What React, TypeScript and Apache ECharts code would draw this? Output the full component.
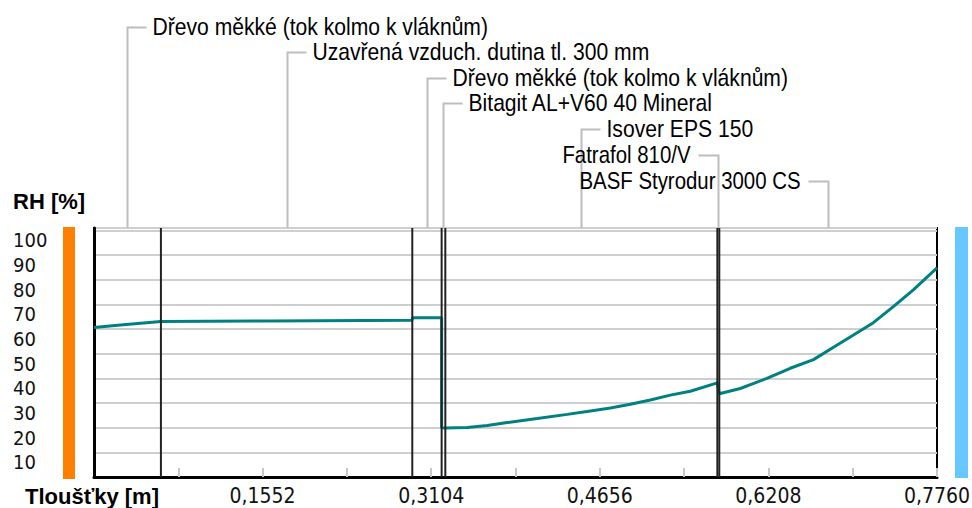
import React, { useEffect, useRef } from "react";
import * as echarts from "echarts";

// Layer names (from inside to outside) and their boundaries along the thickness [m]
const layerNames = [
  "Dřevo měkké (tok kolmo k vláknům)",
  "Uzavřená vzduch. dutina tl. 300 mm",
  "Dřevo měkké (tok kolmo k vláknům)",
  "Bitagit AL+V60 40 Mineral",
  "Isover EPS 150",
  "Fatrafol 810/V",
  "BASF Styrodur 3000 CS",
];
const layerBounds = [0, 0.0616, 0.293, 0.32, 0.3234, 0.5738, 0.5756, 0.776];
const labelRows = [27, 52, 78, 103, 129, 155, 181];
const labelSide = ["right", "right", "right", "right", "right", "left", "left"];

// Relative humidity profile
const rhX = [
  0, 0.0218, 0.0402, 0.0616, 0.1627, 0.293, 0.2932, 0.32, 0.32, 0.3234,
  0.3436, 0.362, 0.3804, 0.408, 0.4356, 0.457, 0.4754, 0.4938, 0.5121,
  0.5305, 0.5489, 0.5738, 0.5756, 0.5949, 0.6194, 0.6409, 0.6623, 0.6807,
  0.6991, 0.7174, 0.7358, 0.7542, 0.776,
];
const rhY = [
  60.6, 61.6, 62.3, 63.1, 63.3, 63.6, 64.6, 64.6, 20.0, 19.9,
  20.1, 20.9, 22.1, 23.7, 25.4, 26.8, 28.0, 29.5, 31.2,
  33.2, 34.8, 38.2, 33.8, 35.9, 40.0, 44.1, 47.6, 52.6,
  57.6, 62.6, 69.1, 75.9, 84.8,
];

const xMin = 0;
const xMax = 0.776;
const xStep = 0.0776;
const yMin = 0;
const yMax = 101;
const yStep = 10;

const COND = "'DejaVu Sans Condensed', 'Liberation Sans Narrow', sans-serif";
const SANS = "'Liberation Sans', Arial, sans-serif";

export default function App() {
  const ref = useRef<HTMLDivElement>(null);

  useEffect(() => {
    if (!ref.current) return;
    const chart = echarts.init(ref.current, undefined, { renderer: "svg" });
    const gridTop = 228;

    const boundarySeries = layerBounds.slice(1, -1).map((b) => ({
      type: "line",
      data: [
        [b, yMin],
        [b, yMax],
      ],
      symbol: "none",
      silent: true,
      lineStyle: { color: "#222", width: 2 },
      z: 4,
    }));

    const option: any = {
      animation: false,
      backgroundColor: "#ffffff",
      grid: {
        left: 94,
        right: 35,
        top: gridTop,
        bottom: 31,
        containLabel: false,
        outerBoundsMode: "none",
        show: true,
        borderColor: "#000",
        borderWidth: 2,
        backgroundColor: "#fff",
      },
      xAxis: {
        type: "value",
        min: xMin,
        max: xMax,
        interval: xStep,
        axisLine: { show: true, onZero: false, lineStyle: { color: "#000", width: 3 } },
        axisTick: { show: true, inside: true, length: 9, lineStyle: { color: "#c8c8c8", width: 2 } },
        splitLine: { show: false },
        axisLabel: {
          fontFamily: COND,
          fontSize: 21,
          lineHeight: 21,
          color: "#111",
          margin: 8,
          showMinLabel: false,
          hideOverlap: false,
          formatter: (v: number) => {
            const k = Math.round(v / xStep);
            if (k === 0 || k % 2 === 1) return "";
            return v.toFixed(4).replace(".", ",");
          },
        },
      },
      yAxis: {
        type: "value",
        min: yMin,
        max: yMax,
        interval: yStep,
        axisLine: { show: true, lineStyle: { color: "#000", width: 3 } },
        axisTick: { show: false },
        splitLine: { show: true, lineStyle: { color: "#cfcfcf", width: 2 } },
        axisLabel: {
          fontFamily: COND,
          fontSize: 20,
          color: "#111",
          align: "left",
          margin: 81,
          verticalAlign: "top",
          lineHeight: 20,
          hideOverlap: false,
          formatter: (v: number) => (v > 0 && v <= 100 && v % 10 === 0 ? String(v) : ""),
        },
      },
      series: [
        {
          type: "line",
          data: rhX.map((x, i) => [x, rhY[i]]),
          symbol: "none",
          lineStyle: { color: "#008080", width: 3 },
          z: 3,
        },
        ...boundarySeries,
      ],
    };
    chart.setOption(option);

    const px = (v: number) =>
      (chart.convertToPixel({ xAxisIndex: 0, yAxisIndex: 0 } as any, [v, 0]) as number[])[0];

    const graphics: any[] = [
      { type: "rect", shape: { x: 63, y: 227, width: 12, height: 252 }, style: { fill: "#ff8000" } },
      { type: "rect", shape: { x: 955, y: 227, width: 13, height: 251 }, style: { fill: "#66c8ff" } },
      {
        type: "text",
        x: 13,
        y: 201,
        style: { text: "RH [%]", font: `bold 22px ${SANS}`, fill: "#000", textAlign: "left", textVerticalAlign: "middle", lineHeight: 22 },
      },
      {
        type: "text",
        x: 25,
        y: 496,
        style: { text: "Tloušťky [m]", font: `bold 22px ${SANS}`, fill: "#000", textAlign: "left", textVerticalAlign: "middle", lineHeight: 22 },
      },
    ];

    layerNames.forEach((name, i) => {
      const cx = Math.round(px((layerBounds[i] + layerBounds[i + 1]) / 2)) + 0.5;
      const y = labelRows[i] + 0.5;
      const right = labelSide[i] === "right";
      const hx = right ? cx + 19 : cx - 20;
      graphics.push({
        type: "polyline",
        shape: { points: [[cx, gridTop], [cx, y], [hx, y]] },
        style: { stroke: "#bdbdbd", lineWidth: 2, fill: "none" },
        silent: true,
      });
      graphics.push({
        type: "text",
        x: right ? cx + 25 : cx - 28,
        y: labelRows[i],
        scaleX: right ? 0.88 : 0.85,
        style: {
          text: name,
          font: `24px ${SANS}`,
          lineHeight: 22,
          fill: "#000",
          textAlign: right ? "left" : "right",
          textVerticalAlign: "middle",
        },
      });
    });

    chart.setOption({ graphic: graphics });

    return () => chart.dispose();
  }, []);

  return (
    <div
      ref={ref}
      style={{ position: "fixed", left: 0, top: 0, width: 972, height: 508, background: "#fff" }}
    />
  );
}
